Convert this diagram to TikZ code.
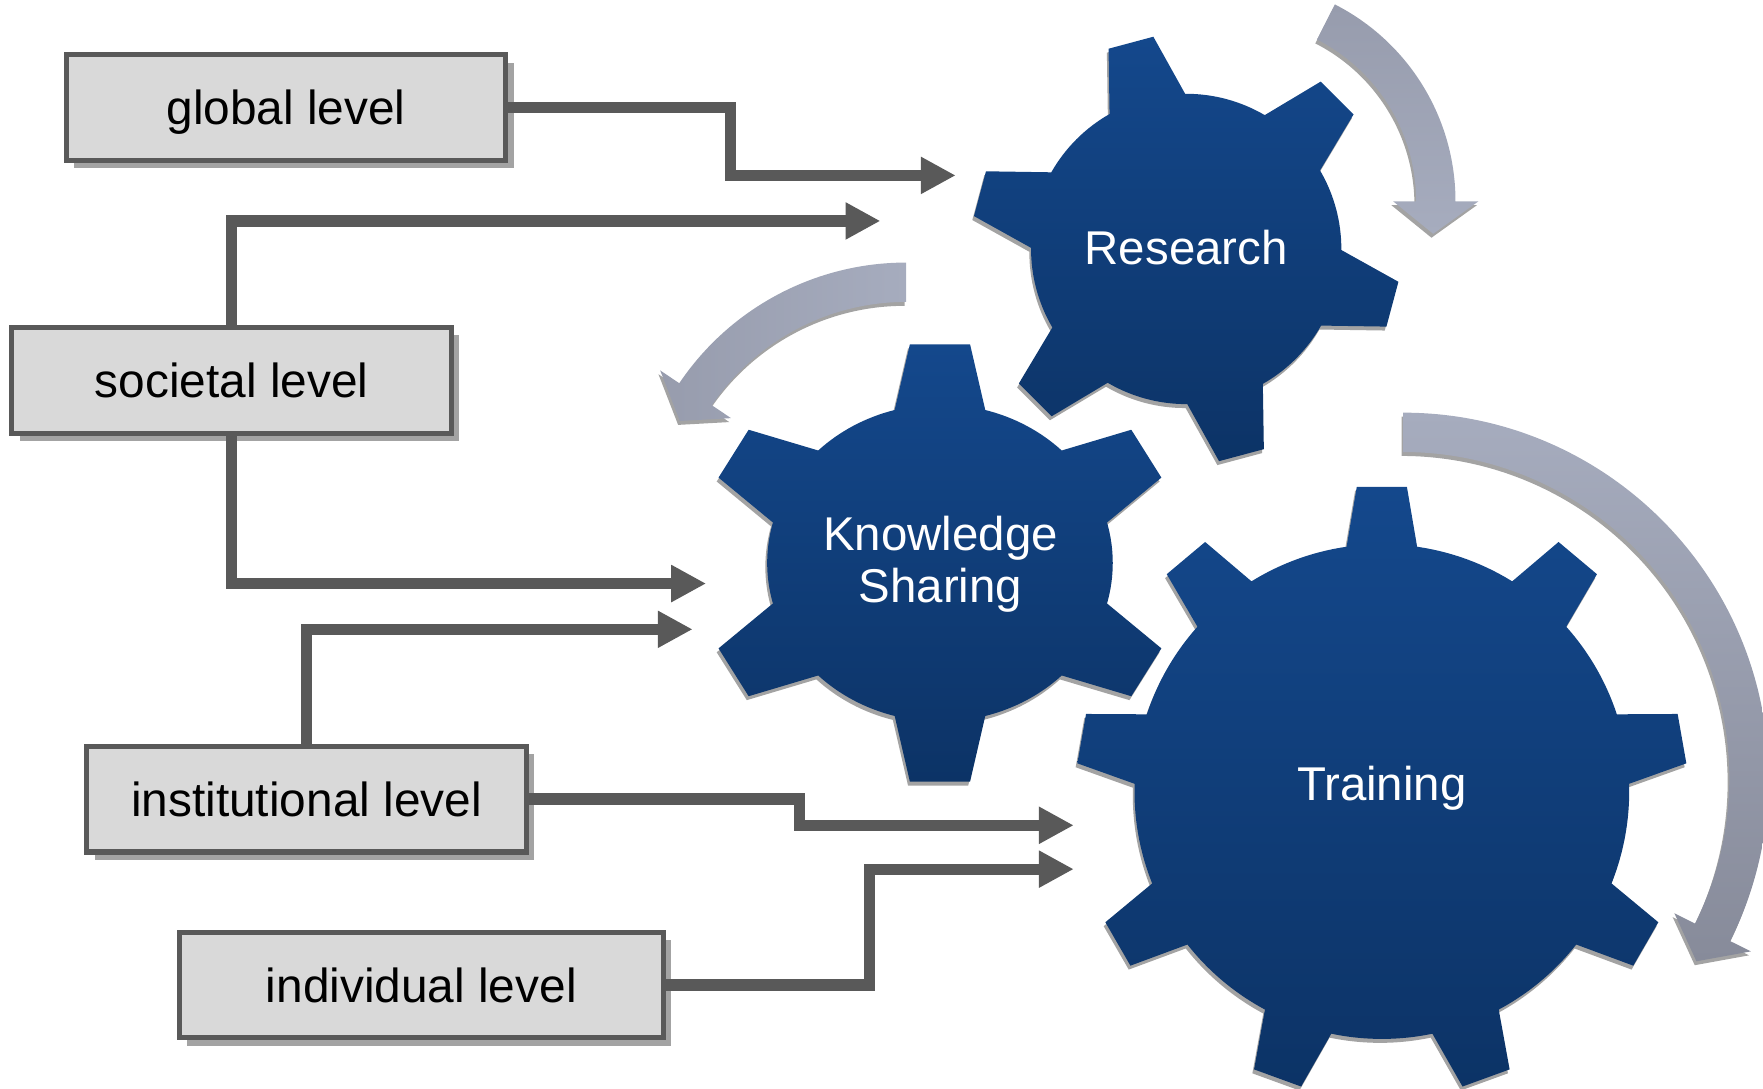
\documentclass[tikz,border=0pt]{standalone}
\usepackage{fontspec}
\setmainfont{Liberation Sans}
\usetikzlibrary{arrows.meta,shadows}

\definecolor{boxfill}{HTML}{D9D9D9}
\definecolor{linegray}{HTML}{595959}
\definecolor{shadowgray}{HTML}{A3A3A3}
\definecolor{geartop}{HTML}{14488C}
\definecolor{gearbottom}{HTML}{0C3366}
\definecolor{turnlight}{HTML}{A6ACBE}
\definecolor{turndark}{HTML}{979CAD}
\definecolor{turndeep}{HTML}{878B9A}

% gear outline: teeth, first tooth angle, body radius, tip radius, root half angle, tip half angle
\newcommand{\gearpath}[6]{({#2-#5}:#3)
  \foreach \k [evaluate=\k as \a using #2+(\k-1)*360/#1] in {1,...,#1}{
    -- ({\a-#5}:#3) -- ({\a-#6}:#4) -- ({\a+#6}:#4) -- ({\a+#5}:#3)
    arc[start angle={\a+#5}, end angle={\a+360/#1-#5}, radius=#3]} -- cycle}

% curved arrow: start angle, head angle, tip angle, middle radius
\newcommand{\turnpath}[4]{({#1}:{#4+17.5})
  arc[start angle=#1, end angle=#2, radius={#4+17.5}]
  -- ({#2}:{#4+38}) -- ({#3}:#4) -- ({#2}:{#4-38}) -- ({#2}:{#4-17.5})
  arc[start angle=#2, end angle=#1, radius={#4-17.5}] -- cycle}

\tikzset{
  levelbox/.style={draw=linegray, line width=1.3pt, fill=boxfill,
    minimum width=39.1mm, minimum height=9.4mm, inner sep=0pt,
    text height=3.3mm, text depth=0.2mm, font=\fontsize{12.1}{14}\selectfont,
    drop shadow={shadow xshift=0.7mm, shadow yshift=-0.7mm, fill=shadowgray, opacity=1}},
  link/.style={draw=linegray, line width=1mm, -{Triangle[length=3.1mm, width=3.1mm]}},
  gearlabel/.style={text=white, align=center, font=\fontsize{12}{13.1}\selectfont},
  gearfill/.style={top color=geartop, bottom color=gearbottom},
  gearshadow/.style={fill=shadowgray, shift={(-1.5,3.5)}}
}

\begin{document}
\begin{tikzpicture}[x=0.1mm, y=-0.1mm]
  \useasboundingbox (0,0) rectangle (1568,968);
  \clip (0,0) rectangle (1568,968);

  % turning arrows
  \begin{scope}[shift={(1098,179)}]
    \path[gearshadow] \turnpath{-63}{0}{9.3}{179};
    \path[top color=turndark, bottom color=turnlight] \turnpath{-63}{0}{9.3}{179};
  \end{scope}
  \begin{scope}[shift={(806,477)}]
    \path[gearshadow] \turnpath{-90}{-146}{-153}{226};
    \path[left color=turndark, right color=turnlight] \turnpath{-90}{-146}{-153}{226};
  \end{scope}
  \begin{scope}[shift={(1248,692)}]
    \path[gearshadow] \turnpath{-90}{26.5}{32}{307.5};
    \path[top color=turnlight, bottom color=turndeep] \turnpath{-90}{26.5}{32}{307.5};
  \end{scope}

  % gears
  \begin{scope}[shift={(1055,221.4)}]
    \path[gearshadow] \gearpath{6}{15}{138}{191}{14.6}{6.2};
    \path[gearfill] \gearpath{6}{15}{138}{191}{14.6}{6.2};
  \end{scope}
  \begin{scope}[shift={(836,500.7)}, xscale=1.09]
    \path[gearshadow] \gearpath{6}{30}{141}{196}{15.2}{7.2};
    \path[gearfill] \gearpath{6}{30}{141}{196}{15.2}{7.2};
  \end{scope}
  \begin{scope}[shift={(1229,704)}]
    \path[gearshadow] \gearpath{9}{30}{220}{272}{8.2}{4.7};
    \path[gearfill] \gearpath{9}{30}{220}{272}{8.2}{4.7};
  \end{scope}

  \node[gearlabel, anchor=base] (research) at (1055,235) {Research};
  \node[gearlabel] (knowledge) at (836.5,502) {Knowledge\\Sharing};
  \node[gearlabel, anchor=base] (training) at (1229,711.5) {Training};

  % levels
  \node[levelbox] (global) at (254.4,95.6) {global level};
  \node[levelbox] (societal) at (206,338.2) {societal level};
  \node[levelbox] (institutional) at (272.6,710.7) {institutional level};
  \node[levelbox, minimum width=43.05mm] (individual) at (374.7,876) {individual level};

  % arrow ends at the gears
  \coordinate (rs1) at (850,156);
  \coordinate (rs2) at (783,196.5);
  \coordinate (ks1) at (628,519);
  \coordinate (ks2) at (616,559.7);
  \coordinate (tr1) at (955,734);
  \coordinate (tr2) at (955,773);

  \draw[link] (global.east) -| (650,156) -- (rs1);
  \draw[link] (societal.north) |- (rs2);
  \draw[link] (societal.south) |- (ks1);
  \draw[link] (institutional.north) |- (ks2);
  \draw[link] (institutional.east) -| (711,734) -- (tr1);
  \draw[link] (individual.east) -| (773,773) -- (tr2);
\end{tikzpicture}
\end{document}
